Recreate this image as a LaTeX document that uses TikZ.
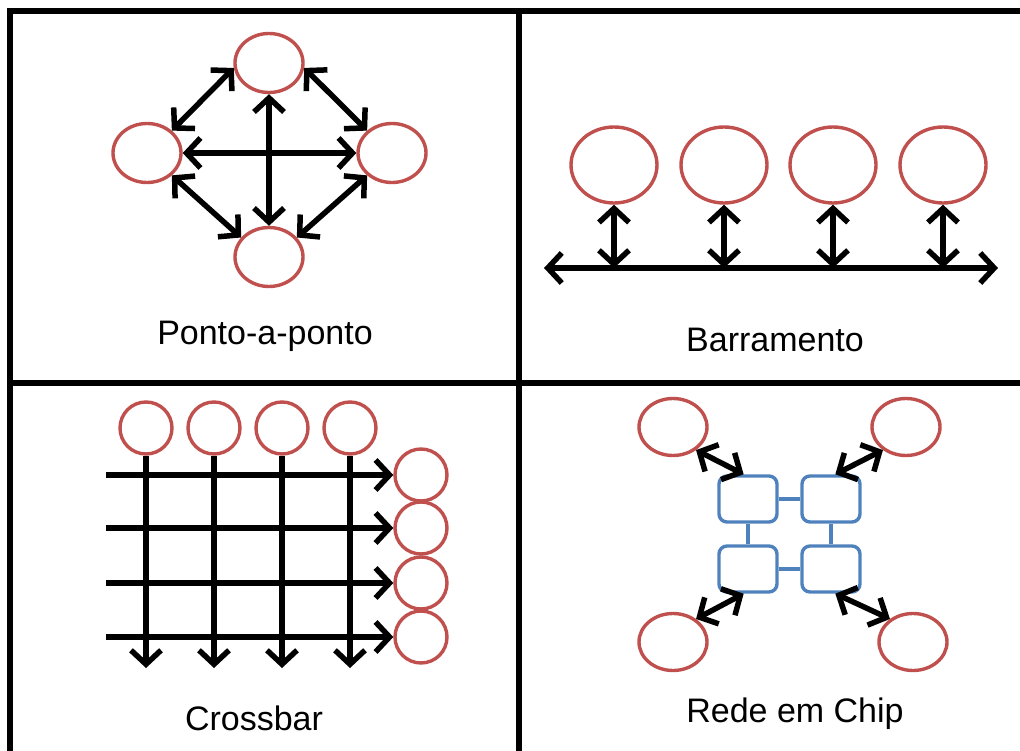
\documentclass[tikz,border=0pt]{standalone}
\usepackage{fontspec}
\setmainfont{Liberation Sans}
\usepackage{xcolor}
\usetikzlibrary{arrows.meta,shapes.geometric,positioning}
\definecolor{nored}{RGB}{192,80,77}
\definecolor{noazul}{RGB}{79,129,189}
\tikzset{
  nodo/.style={ellipse,draw=nored,line width=3.4pt,inner sep=0pt,minimum width=68pt,minimum height=59pt},
  nodocb/.style={circle,draw=nored,line width=3.4pt,inner sep=0pt,minimum size=52pt},
  roteador/.style={rectangle,rounded corners=8pt,draw=noazul,line width=3.4pt,minimum width=58pt,minimum height=46pt},
  ligacao/.style={draw=noazul,line width=3.4pt},
  seta/.style={line width=5.5pt,>={Straight Barb[length=14pt,width=30pt]}},
  grade/.style={line width=5.5pt},
  rotulo/.style={font=\fontsize{34}{40}\selectfont}
}

\begin{document}
\begin{tikzpicture}[x=1pt,y=-1pt]
\useasboundingbox (0,0) rectangle (1020,751);
\draw[grade] (10,751) -- (10,11) -- (1020,11);
\draw[grade] (519,11) -- (519,751);
\draw[grade] (10,383) -- (1020,383);
% ponto-a-ponto
\node[nodo] (cima) at (269,63) {};
\node[nodo] (esq) at (147,153) {};
\node[nodo] (dir) at (392,153) {};
\node[nodo] (baixo) at (269,257) {};
\draw[seta,<->] (esq) -- (dir);
\draw[seta,<->] (cima) -- (baixo);
\draw[seta,<->] (cima.188) -- (esq.42);
\draw[seta,<->] (cima.-8) -- (dir.138);
\draw[seta,<->] (esq.-42) -- (baixo.145);
\draw[seta,<->] (dir.-138) -- (baixo.35);
\node[rotulo] (t1) at (265,336) {Ponto-a-ponto};
% barramento
\coordinate (bi) at (544,268); \coordinate (bf) at (998,268);
\draw[seta,<->] (bi) -- (bf);
\foreach \i/\x in {1/614,2/724,3/833,4/943}{
  \node[nodo,minimum width=86pt,minimum height=76pt] (b\i) at (\x,165) {};
  \draw[seta,<->] (b\i) -- (b\i |- bi);}
\node[rotulo] (t2) at (775,340) {Barramento};
% crossbar
\coordinate (fim) at (0,668);
\foreach \i/\x in {1/146,2/214,3/282,4/350}{
  \node[nodocb] (c\i) at (\x,428) {};}
\foreach \i/\y in {1/475,2/528,3/583,4/637}{
  \node[nodocb] (r\i) at (421,\y) {};
  \coordinate (h\i) at (106,\y);
  \draw[seta,->] (h\i) -- (r\i);}
\foreach \i in {1,...,4}{
  \draw[seta,->] (c\i) -- (c\i |- fim);}
\node[rotulo] (t3) at (254,718) {Crossbar};
% rede em chip
\node[roteador] (rTL) at (748,499) {};
\node[roteador] (rTR) at (831,499) {};
\node[roteador] (rBL) at (748,569) {};
\node[roteador] (rBR) at (831,569) {};
\draw[ligacao] (rTL) -- (rTR);
\draw[ligacao] (rBL) -- (rBR);
\draw[ligacao] (rTL) -- (rBL);
\draw[ligacao] (rTR) -- (rBR);
\node[nodo,minimum height=57pt] (cTL) at (673,427) {};
\node[nodo,minimum height=57pt] (cTR) at (906,427) {};
\node[nodo,minimum height=57pt] (cBL) at (673,642) {};
\node[nodo,minimum height=57pt] (cBR) at (913,642) {};
\draw[seta,<->] (cTL.-45) -- (rTL.100);
\draw[seta,<->] (cTR.-135) -- (rTR.80);
\draw[seta,<->] (cBL.45) -- (rBL.-100);
\draw[seta,<->] (cBR.135) -- (rBR.-80);
\node[rotulo] (t4) at (795,714) {Rede em Chip};
\end{tikzpicture}
\end{document}
